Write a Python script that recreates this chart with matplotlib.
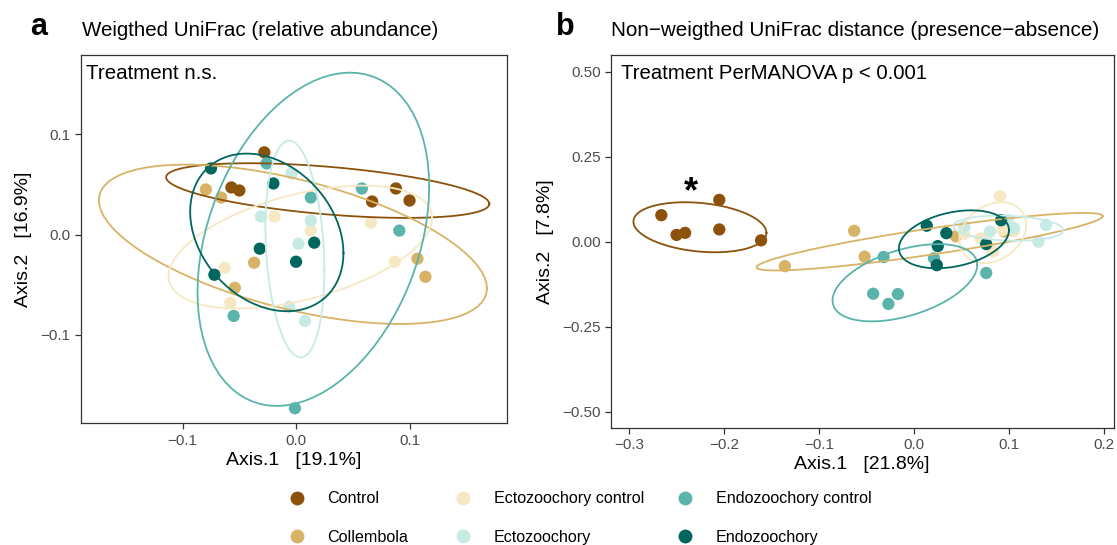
import numpy as np
import matplotlib
matplotlib.use("Agg")
import matplotlib.pyplot as plt
from matplotlib.lines import Line2D

plt.rcParams['font.family'] = ['Liberation Sans', 'DejaVu Sans']

groups = ["Control", "Collembola", "Ectozoochory control", "Ectozoochory",
          "Endozoochory control", "Endozoochory"]
colors = ["#8C510A", "#D8B365", "#F6E8C3", "#C7EAE5", "#5AB4AC", "#01665E"]

# ---- Panel a: weighted UniFrac ----
a_control_x = [-0.028, -0.057, -0.050, 0.067, 0.088, 0.100]
a_control_y = [0.082, 0.047, 0.044, 0.033, 0.046, 0.034]
a_collembola_x = [-0.0795, -0.066, -0.037, -0.054, 0.107, 0.114]
a_collembola_y = [0.045, 0.037, -0.028, -0.053, -0.024, -0.042]
a_ectoctrl_x = [0.066, -0.019, 0.013, -0.063, -0.058, 0.087]
a_ectoctrl_y = [0.012, 0.018, 0.004, -0.033, -0.068, -0.027]
a_ecto_x = [-0.031, 0.013, 0.002, -0.006, 0.008, -0.004]
a_ecto_y = [0.018, 0.014, -0.009, -0.072, -0.086, 0.061]
a_endoctrl_x = [-0.026, 0.013, 0.058, 0.091, -0.055, -0.001]
a_endoctrl_y = [0.071, 0.037, 0.046, 0.004, -0.081, -0.173]
a_endo_x = [-0.075, -0.020, 0.016, -0.032, 0.000, -0.072]
a_endo_y = [0.066, 0.051, -0.008, -0.014, -0.027, -0.040]

# ---- Panel b: unweighted UniFrac ----
b_control_x = [-0.266, -0.250, -0.241, -0.205, -0.205, -0.161]
b_control_y = [0.078, 0.020, 0.026, 0.123, 0.036, 0.004]
b_collembola_x = [-0.136, -0.063, -0.052, 0.044, 0.095, 0.104]
b_collembola_y = [-0.072, 0.032, -0.044, 0.016, 0.030, 0.033]
b_ectoctrl_x = [0.0905, 0.053, 0.093, 0.1056, 0.083, 0.070]
b_ectoctrl_y = [0.134, 0.023, 0.034, 0.032, -0.029, 0.010]
b_ecto_x = [0.053, 0.0985, 0.139, 0.131, 0.105, 0.080]
b_ecto_y = [0.044, 0.064, 0.049, 0.000, 0.040, 0.030]
b_endoctrl_x = [-0.032, -0.043, -0.027, -0.017, 0.021, 0.076]
b_endoctrl_y = [-0.045, -0.153, -0.183, -0.154, -0.049, -0.092]
b_endo_x = [0.0134, 0.034, 0.025, 0.024, 0.076, 0.0916]
b_endo_y = [0.047, 0.025, -0.013, -0.069, -0.007, 0.063]

panel_a = [(a_control_x, a_control_y), (a_collembola_x, a_collembola_y),
           (a_ectoctrl_x, a_ectoctrl_y), (a_ecto_x, a_ecto_y),
           (a_endoctrl_x, a_endoctrl_y), (a_endo_x, a_endo_y)]
panel_b = [(b_control_x, b_control_y), (b_collembola_x, b_collembola_y),
           (b_ectoctrl_x, b_ectoctrl_y), (b_ecto_x, b_ecto_y),
           (b_endoctrl_x, b_endoctrl_y), (b_endo_x, b_endo_y)]

ELLIPSE_LEVEL = 0.80


def cov_trob(x, nu=5, maxit=25, tol=0.01):
    n, p = x.shape
    wt = np.ones(n)
    loc = (wt[:, None] * x).sum(0) / wt.sum()
    w = np.sqrt(wt)
    X = x - loc
    for _ in range(maxit):
        w0 = w
        X = x - loc
        _, d, vt = np.linalg.svd(np.sqrt(w / w.sum())[:, None] * X, full_matrices=False)
        wX = X @ vt.T @ np.diag(1.0 / d)
        Q = (wX ** 2).sum(1)
        w = (wt * (nu + p)) / (nu + Q)
        loc = (w[:, None] * x).sum(0) / w.sum()
        if np.all(np.abs(w - w0) < tol):
            break
    sX = np.sqrt(w)[:, None] * X
    cov = sX.T @ sX / wt.sum()
    return loc, cov


def ellipse_pts(xs, ys, level=ELLIPSE_LEVEL, segments=80):
    data = np.column_stack([xs, ys])
    center, shape = cov_trob(data)
    dfd = len(xs) - 1
    f = dfd / 2.0 * ((1 - level) ** (-2.0 / dfd) - 1)
    radius = np.sqrt(2 * f)
    R = np.linalg.cholesky(shape).T
    ang = np.linspace(0, 2 * np.pi, segments + 1)
    circ = np.column_stack([np.cos(ang), np.sin(ang)])
    e = center + radius * (circ @ R)
    return e[:, 0], e[:, 1]


fig = plt.figure(figsize=(11.17, 5.45), dpi=100)
W, H = 1117.0, 545.0


def make_axes(l, r, t, b):
    return fig.add_axes([l / W, 1 - b / H, (r - l) / W, (b - t) / H])


axA = make_axes(80.5, 507.1, 55, 423.3)
axB = make_axes(611.0, 1113.5, 55, 427.7)

for ax, pdata in [(axA, panel_a), (axB, panel_b)]:
    for (xs, ys), c in zip(pdata, colors):
        ax.scatter(xs, ys, s=78, color=c, edgecolors='none', zorder=2)
    for (xs, ys), c in zip(pdata, colors):
        ex, ey = ellipse_pts(xs, ys)
        ax.plot(ex, ey, color=c, lw=1.3, zorder=3)
    for sp in ax.spines.values():
        sp.set_color('#333333')
        sp.set_linewidth(0.9)
    ax.tick_params(axis='both', colors='#333333', labelcolor='#4D4D4D',
                   labelsize=11, length=4, width=0.9)

axA.set_xlim(-0.190, 0.186)
axA.set_ylim(-0.188, 0.179)
axA.set_xticks([-0.1, 0.0, 0.1])
axA.set_xticklabels(["\u22120.1", "0.0", "0.1"])
axA.set_yticks([-0.1, 0.0, 0.1])
axA.set_yticklabels(["\u22120.1", "0.0", "0.1"])
axA.set_xlabel("Axis.1   [19.1%]", fontsize=14, labelpad=3)
axA.set_ylabel("Axis.2   [16.9%]", fontsize=14, labelpad=6)
axA.text(0.012, 0.975, "Treatment n.s.", transform=axA.transAxes,
         ha='left', va='top', fontsize=14.8)

axB.set_xlim(-0.319, 0.210)
axB.set_ylim(-0.547, 0.549)
axB.set_xticks([-0.3, -0.2, -0.1, 0.0, 0.1, 0.2])
axB.set_xticklabels(["\u22120.3", "\u22120.2", "\u22120.1", "0.0", "0.1", "0.2"])
axB.set_yticks([-0.5, -0.25, 0.0, 0.25, 0.5])
axB.set_yticklabels(["\u22120.50", "\u22120.25", "0.00", "0.25", "0.50"])
axB.set_xlabel("Axis.1   [21.8%]", fontsize=14, labelpad=3)
axB.set_ylabel("Axis.2   [7.8%]", fontsize=14, labelpad=6)
axB.text(0.019, 0.975, "Treatment PerMANOVA p < 0.001", transform=axB.transAxes,
         ha='left', va='top', fontsize=14.7)
axB.text(-0.235, 0.145, "*", ha='center', va='center', fontsize=26,
         fontweight='bold', color='black')

fig.text(30 / W, 1 - 27 / H, "a", fontsize=22, fontweight='bold', va='center', ha='left')
fig.text(82 / W, 1 - 30 / H, "Weigthed UniFrac (relative abundance)", fontsize=14.8,
         va='center', ha='left')
fig.text(556 / W, 1 - 27 / H, "b", fontsize=22, fontweight='bold', va='center', ha='left')
fig.text(611 / W, 1 - 30 / H,
         "Non\u2212weigthed UniFrac distance (presence\u2212absence)", fontsize=14.9,
         va='center', ha='left')

# legend: three columns of two entries
handles = [Line2D([], [], marker='o', linestyle='none', markersize=10,
                  markerfacecolor=c, markeredgecolor='none') for c in colors]
col_x = [276, 442, 664]
for k in range(3):
    fig.legend(handles[2 * k:2 * k + 2], groups[2 * k:2 * k + 2],
               loc='upper left', bbox_to_anchor=(col_x[k] / W, 1 - 480 / H),
               frameon=False, fontsize=11.6, labelspacing=1.45,
               handletextpad=1.3, handlelength=1.2, borderpad=0.2)

fig.savefig("out.png", dpi=100)
